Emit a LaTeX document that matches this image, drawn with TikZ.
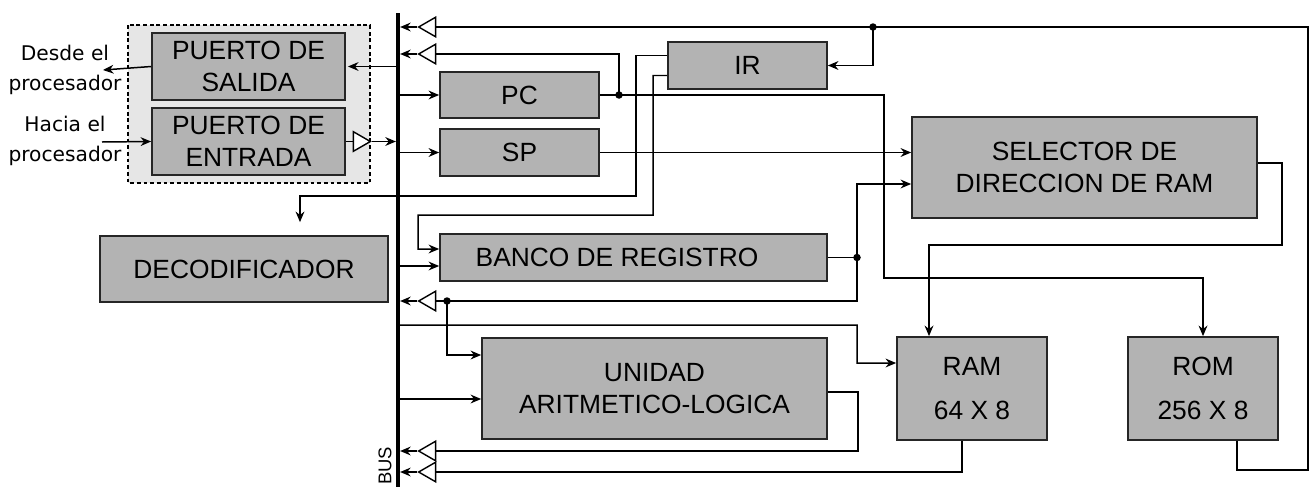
\documentclass[tikz,border=0pt]{standalone}
\usepackage{fontspec}
\setmainfont{Liberation Sans}
\newfontfamily\dejavu{DejaVu Sans}
\usetikzlibrary{arrows.meta,shapes.geometric}

\definecolor{boxgray}{HTML}{B3B3B3}
\definecolor{framegray}{HTML}{E6E6E6}
\definecolor{edgegray}{HTML}{262626}

\tikzset{
  block/.style={draw=edgegray, line width=1pt, fill=boxgray, inner sep=0pt,
    align=center, font=\fontsize{15}{18.5}\selectfont},
  buf/.style={draw, fill=white, line width=0.8pt, isosceles triangle,
    isosceles triangle apex angle=60, minimum width=0.34cm, minimum height=0.34cm,
    inner sep=0pt},
  wire/.style={line width=0.85pt},
  arr/.style={wire, -{Stealth[length=6pt,width=5pt]}},
  tobus/.style={arr, shorten >=1.2pt},
  dot/.style={circle, fill, inner sep=0pt, minimum size=0.15cm},
}

\begin{document}
\begin{tikzpicture}[x=0.02cm, y=-0.02cm]
  \useasboundingbox (0,0) rectangle (1311,487);

  \draw[line width=0.8pt, dash pattern=on 2.2pt off 1.6pt, fill=framegray] (128,25) rectangle (370,183);

  \node[block, minimum width=3.86cm, minimum height=1.34cm] (salida) at (248.5,66.5) {PUERTO DE\\SALIDA};
  \node[block, minimum width=3.86cm, minimum height=1.34cm] (entrada) at (248.5,141.5) {PUERTO DE\\ENTRADA};
  \node[block, minimum width=3.18cm, minimum height=0.92cm] (pc) at (519.5,95) {PC};
  \node[block, minimum width=3.18cm, minimum height=0.94cm] (sp) at (519.5,152.5) {SP};
  \node[block, minimum width=3.18cm, minimum height=0.94cm] (ir) at (747.5,65.5) {IR};
  \node[block, minimum width=6.9cm, minimum height=2.02cm] (selector) at (1084.5,167.5) {SELECTOR DE\\DIRECCION DE RAM};
  \node[block, minimum width=5.76cm, minimum height=1.32cm] (deco) at (244,269) {DECODIFICADOR};
  \node[block, minimum width=7.74cm, minimum height=0.94cm] (banco) at (633.5,257.5) {BANCO DE REGISTRO\hspace*{0.66cm}};
  \node[block, minimum width=6.9cm, minimum height=2.02cm] (alu) at (654.5,388.5) {UNIDAD\\ARITMETICO-LOGICA};
  \node[block, minimum width=3cm, minimum height=2.06cm] (ram) at (972,388.5) {RAM\\[7pt]64 X 8};
  \node[block, minimum width=3cm, minimum height=2.06cm] (rom) at (1203,388.5) {ROM\\[7pt]256 X 8};

  \node[font=\dejavu\fontsize{11.5}{17}\selectfont, align=center] (desde) at (65,70) {Desde el\\procesador};
  \node[font=\dejavu\fontsize{11.5}{17}\selectfont, align=center] (hacia) at (65,141) {Hacia el\\procesador};
  \coordinate (desdeend) at (103,70);
  \coordinate (haciastart) at (102,142);

  \node[buf] (b0) at (359,141.5) {};
  \node[buf, shape border rotate=180] (b1) at (430,27) {};
  \node[buf, shape border rotate=180] (b2) at (430,54) {};
  \node[buf, shape border rotate=180] (b3) at (430,301) {};
  \node[buf, shape border rotate=180] (b4) at (430,451) {};
  \node[buf, shape border rotate=180] (b5) at (430,472) {};

  \node[dot] (jir) at (873,27) {};
  \node[dot] (jpc) at (619,95) {};
  \node[dot] (jbanco) at (857,257.5) {};
  \node[dot] (jalu) at (447,301) {};

  \coordinate (bustop) at (398,13);
  \coordinate (busbot) at (398,487);

  \draw[arr] (salida.west) -- (desdeend);
  \draw[arr] (haciastart) -- (entrada.west);
  \draw[tobus] (salida.east -| bustop) -- (salida.east);
  \draw[wire] (entrada.east) -- (b0.lower side);
  \foreach \b in {b0,b1,b2,b3,b4,b5}
    \draw[tobus] (\b.apex) -- (\b.apex -| bustop);

  \draw[wire] ([xshift=0.68cm]rom.south) |- (1308,470) |- (jir.center) -- (b1.lower side);
  \draw[arr] (jir.center) |- (ir.east);
  \draw[wire] (b2.lower side) -| (jpc.center);
  \draw[arr] (pc.east) -- (jpc.center) -| (884,278) -| (rom.north);

  \draw[arr] ([yshift=0.2cm]ir.west) -| (636,196) -| ([xshift=1.12cm,yshift=0.26cm]deco.north);
  \draw[arr] ([yshift=-0.2cm]ir.west) -| (653,215) -| (418,249) -- ([yshift=0.17cm]banco.west);

  \draw[arr] (pc.west -| bustop) -- (pc.west);
  \draw[arr] (sp.west -| bustop) -- (sp.west);
  \draw[arr] ([yshift=-0.17cm]banco.west -| bustop) -- ([yshift=-0.17cm]banco.west);
  \draw[arr] ([yshift=-0.21cm]alu.west -| bustop) -- ([yshift=-0.21cm]alu.west);
  \draw[arr] ([yshift=1.27cm]ram.west -| bustop) -| (857,363) -- ([yshift=0.51cm]ram.west);

  \draw[arr] (sp.east) -- (sp.east -| selector.west);
  \draw[arr] ([yshift=0.09cm]selector.east) -| (1282,245) -| ([xshift=-0.86cm]ram.north);
  \draw[wire] (banco.east) -- (jbanco.center);
  \draw[arr] (jbanco.center) |- ([yshift=-0.33cm]selector.west);
  \draw[wire] (jbanco.center) |- (jalu.center) -- (b3.lower side);
  \draw[arr] (jalu.center) |- ([yshift=0.67cm]alu.west);
  \draw[wire] ([yshift=-0.07cm]alu.east) -| (858,451) -- (b4.lower side);
  \draw[wire] ([xshift=-0.2cm]ram.south) |- (b5.lower side);

  \draw[line width=2.4pt] (bustop) -- (busbot);
  \node[rotate=90, font=\fontsize{10.5}{12}\selectfont] (buslabel) at (385,466) {BUS};
\end{tikzpicture}
\end{document}
